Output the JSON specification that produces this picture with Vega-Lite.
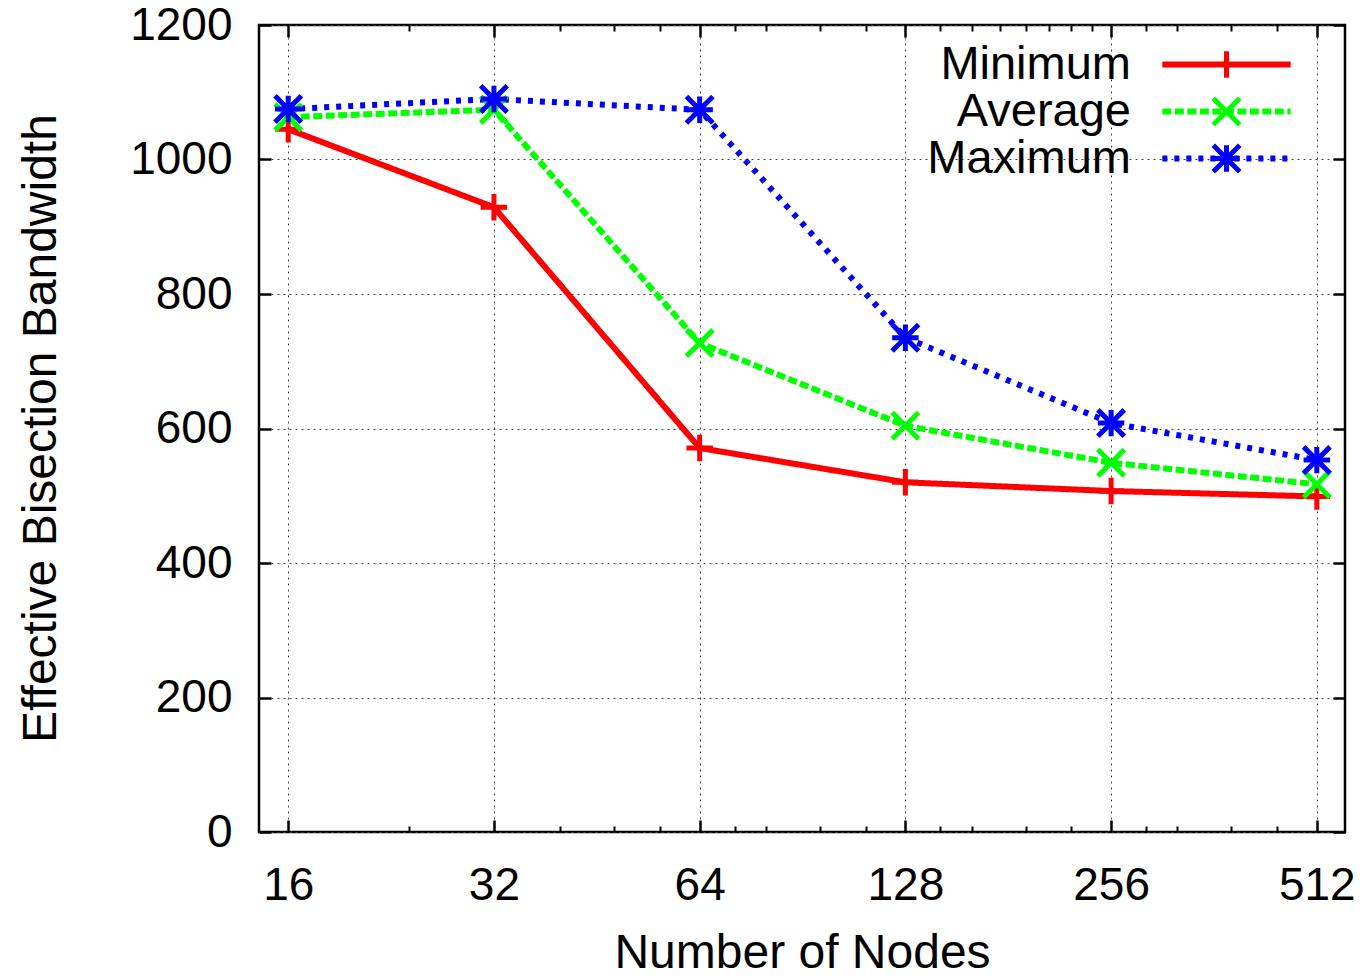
{
  "$schema": "https://vega.github.io/schema/vega-lite/v6.json",
  "width": 1086,
  "height": 807,
  "autosize": {"type": "none"},
  "padding": {"left": 259, "top": 25, "right": 26, "bottom": 144},
  "background": "white",
  "config": {
    "view": {"stroke": "#000", "strokeWidth": 2.5},
    "font": "Liberation Sans",
    "axis": {"labelFont": "Liberation Sans", "titleFont": "Liberation Sans", "labelColor": "#000", "titleColor": "#000", "titleFontWeight": "normal"},
    "legend": {"labelFont": "Liberation Sans", "labelColor": "#000"}
  },
  "data": {
    "values": [
      {"nodes": 16, "series": "Minimum", "value": 1045},
      {"nodes": 32, "series": "Minimum", "value": 929},
      {"nodes": 64, "series": "Minimum", "value": 571},
      {"nodes": 128, "series": "Minimum", "value": 520},
      {"nodes": 256, "series": "Minimum", "value": 507},
      {"nodes": 512, "series": "Minimum", "value": 499},
      {"nodes": 16, "series": "Average", "value": 1063},
      {"nodes": 32, "series": "Average", "value": 1074},
      {"nodes": 64, "series": "Average", "value": 727},
      {"nodes": 128, "series": "Average", "value": 604},
      {"nodes": 256, "series": "Average", "value": 549},
      {"nodes": 512, "series": "Average", "value": 517},
      {"nodes": 16, "series": "Maximum", "value": 1075},
      {"nodes": 32, "series": "Maximum", "value": 1090},
      {"nodes": 64, "series": "Maximum", "value": 1074},
      {"nodes": 128, "series": "Maximum", "value": 735},
      {"nodes": 256, "series": "Maximum", "value": 608},
      {"nodes": 512, "series": "Maximum", "value": 553}
    ]
  },
  "layer": [
    {
      "mark": {"type": "line", "strokeWidth": 6, "strokeCap": "butt"},
      "encoding": {
        "x": {
          "field": "nodes", "type": "quantitative",
          "scale": {"type": "log", "base": 2, "domain": [14.5, 563], "nice": false},
          "axis": {"orient": "bottom", "values": [16, 32, 64, 128, 256, 512], "format": "d", "ticks": false, "domain": false,
            "grid": true, "gridDash": [2, 4], "gridColor": "#444", "gridWidth": 1,
            "labelFontSize": 46, "labelPadding": 31, "labelFlush": false, "labelOverlap": false,
            "title": "Number of Nodes", "titleFontSize": 48, "titleY": 135, "titleBaseline": "alphabetic"}
        },
        "y": {
          "field": "value", "type": "quantitative",
          "scale": {"domain": [0, 1200], "nice": false},
          "axis": {"orient": "left", "values": [0, 200, 400, 600, 800, 1000, 1200], "format": "d", "ticks": false, "domain": false,
            "grid": true, "gridDash": [2, 4], "gridColor": "#444", "gridWidth": 1,
            "labelFontSize": 46, "labelPadding": 27, "labelFlush": false, "labelOverlap": false,
            "title": "Effective Bisection Bandwidth", "titleFontSize": 48, "titleX": -204, "titleY": 403,
            "titleAngle": -90, "titleAlign": "center", "titleBaseline": "alphabetic"}
        },
        "stroke": {
          "field": "series", "type": "nominal",
          "scale": {"domain": ["Minimum", "Average", "Maximum"], "range": ["#ff0000", "#00ff00", "#0000ff"]},
          "legend": {"orient": "none", "legendX": 944, "legendY": 16, "title": null, "direction": "vertical",
            "symbolType": "M-4.85,0L4.85,0", "symbolSize": 700, "symbolStrokeWidth": 6, "labelFontSize": 47, "labelLimit": 0,
            "labelAlign": "right", "labelOffset": -119, "rowPadding": -2, "padding": 0}
        },
        "strokeDash": {
          "field": "series", "type": "nominal",
          "scale": {"domain": ["Minimum", "Average", "Maximum"], "range": [[1, 0], [9, 3.5], [5, 7]]},
          "legend": {"orient": "none", "legendX": 944, "legendY": 16, "title": null, "direction": "vertical",
            "symbolType": "M-4.85,0L4.85,0", "symbolSize": 700, "symbolStrokeWidth": 6, "labelFontSize": 47, "labelLimit": 0,
            "labelAlign": "right", "labelOffset": -119, "rowPadding": -2, "padding": 0}
        }
      }
    },
    {
      "transform": [{"calculate": "datum.series", "as": "key"}],
      "mark": {"type": "point", "filled": false, "strokeWidth": 5, "size": 700, "opacity": 1},
      "encoding": {
        "x": {"field": "nodes", "type": "quantitative", "axis": null},
        "y": {"field": "value", "type": "quantitative", "axis": null},
        "color": {
          "field": "key", "type": "nominal", "sort": ["Minimum", "Average", "Maximum"],
          "scale": {"range": ["#ff0000", "#00ff00", "#0000ff"]},
          "legend": null
        },
        "shape": {
          "field": "key", "type": "nominal", "sort": ["Minimum", "Average", "Maximum"],
          "scale": {"range": ["M-1,0L1,0M0,-1L0,1", "M-1,-1L1,1M-1,1L1,-1", "M-1,0L1,0M0,-1L0,1M-1,-1L1,1M-1,1L1,-1"]},
          "legend": {"orient": "none", "legendX": 944, "legendY": 16, "title": null, "direction": "vertical",
            "symbolSize": 700, "symbolStrokeWidth": 5, "symbolFillColor": "transparent",
            "symbolStrokeColor": {"expr": "datum.value === 'Minimum' ? '#ff0000' : datum.value === 'Average' ? '#00ff00' : '#0000ff'"},
            "labelFontSize": 47, "labelExpr": "' '",
            "rowPadding": -2, "padding": 0}
        }
      }
    },
    {
      "mark": {"type": "point", "opacity": 0},
      "encoding": {
        "x": {"field": "nodes", "type": "quantitative",
          "axis": {"orient": "bottom", "values": [16, 32, 64, 128, 256, 512], "offset": -12, "tickSize": 12, "tickWidth": 2.5, "tickColor": "#000",
            "labels": false, "domain": false, "grid": false, "title": null}},
        "y": {"field": "value", "type": "quantitative",
          "axis": {"orient": "left", "values": [0, 200, 400, 600, 800, 1000, 1200], "offset": -12, "tickSize": 12, "tickWidth": 2.5, "tickColor": "#000",
            "labels": false, "domain": false, "grid": false, "title": null}}
      }
    },
    {
      "mark": {"type": "point", "opacity": 0},
      "encoding": {
        "x": {"field": "nodes", "type": "quantitative",
          "axis": {"orient": "top", "values": [16, 32, 64, 128, 256, 512], "offset": -12, "tickSize": 12, "tickWidth": 2.5, "tickColor": "#000",
            "labels": false, "domain": false, "grid": false, "title": null}},
        "y": {"field": "value", "type": "quantitative",
          "axis": {"orient": "right", "values": [0, 200, 400, 600, 800, 1000, 1200], "offset": -12, "tickSize": 12, "tickWidth": 2.5, "tickColor": "#000",
            "labels": false, "domain": false, "grid": false, "title": null}}
      }
    },
    {
      "mark": {"type": "point", "opacity": 0},
      "encoding": {
        "x": {"field": "nodes", "type": "quantitative",
          "axis": {"orient": "bottom", "values": [24, 40, 48, 56, 72, 80, 96, 112, 144, 160, 192, 224, 288, 320, 384, 448], "offset": -6, "tickSize": 6, "tickWidth": 2, "tickColor": "#000",
            "labels": false, "domain": false, "grid": false, "title": null}},
        "y": {"field": "value", "type": "quantitative", "axis": null}
      }
    },
    {
      "mark": {"type": "point", "opacity": 0},
      "encoding": {
        "x": {"field": "nodes", "type": "quantitative",
          "axis": {"orient": "top", "values": [24, 40, 48, 56, 72, 80, 96, 112, 144, 160, 176, 192, 208, 224, 240, 288, 320, 384, 448], "offset": -6, "tickSize": 6, "tickWidth": 2, "tickColor": "#000",
            "labels": false, "domain": false, "grid": false, "title": null}},
        "y": {"field": "value", "type": "quantitative", "axis": null}
      }
    }
  ],
  "resolve": {"axis": {"x": "independent", "y": "independent"}}
}
